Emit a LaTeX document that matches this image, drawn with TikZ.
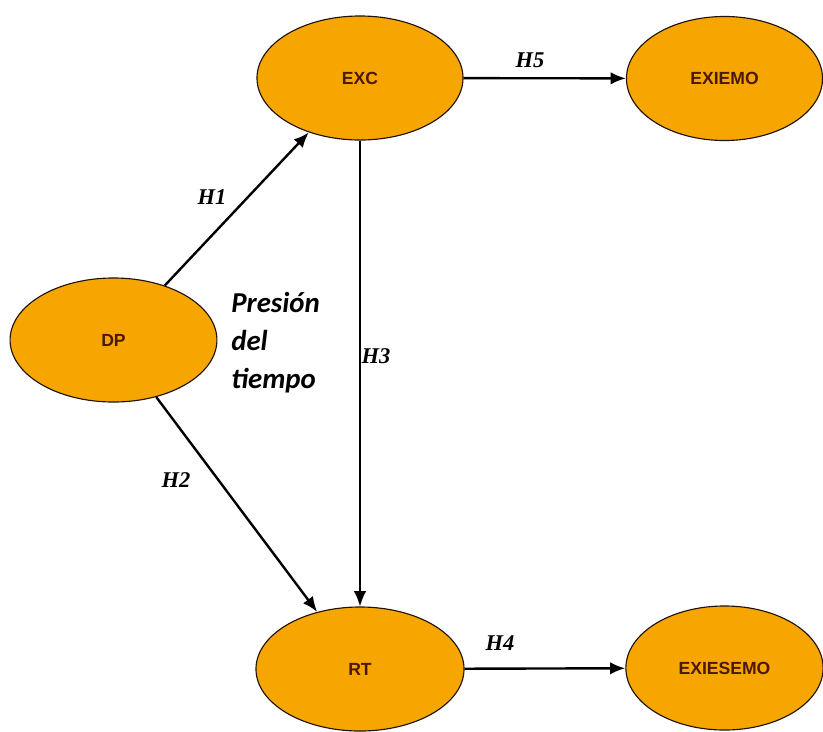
\documentclass[tikz,border=0pt]{standalone}
\usepackage{fontspec}
\setmainfont{Liberation Serif}
\setsansfont{Liberation Sans}
\newfontfamily\notefont{Carlito}
\usetikzlibrary{shapes.geometric}
\usetikzlibrary{arrows.meta}
\definecolor{varfill}{RGB}{247,165,0}
\definecolor{vartext}{RGB}{75,25,10}
\tikzset{
  % style for the latent variables
  latent/.style={ellipse,draw=black!85!brown,line width=0.8pt,fill=varfill,
    inner sep=0pt,minimum width=#1,minimum height=3.1cm,
    font=\sffamily\bfseries\fontsize{12.5}{14}\selectfont,text=vartext},
  latent/.default=5.15cm,
  % style for the hypothesis arrows
  hyp/.style={draw=black,line width=1.7pt,-{Latex[length=3.8mm,width=3.1mm]}},
  hyplabel/.style={font=\rmfamily\bfseries\itshape\fontsize{16}{18}\selectfont},
  note/.style={font=\notefont\bfseries\itshape\fontsize{20.5}{27}\selectfont,align=left,inner sep=0pt},
}

\begin{document}
\begin{tikzpicture}[x=0.025cm,y=-0.025cm]
\useasboundingbox (0,0) rectangle (823,731);
\node[latent] (EXC) at (360,78) {EXC};
\node[latent=4.9cm] (EXIEMO) at (724.5,78.5) {EXIEMO};
\node[latent=5.17cm] (DP) at (113.5,340) {DP};
\node[latent=5.2cm] (RT) at (360,669) {RT};
\node[latent=4.93cm] (EXIESEMO) at (724.5,668) {EXIESEMO};
\node[note,anchor=west] (tiempo) at (231,343) {Presión\\del\\tiempo};
\begin{scope}
  \draw[hyp] (DP) -- (EXC);
  \draw[hyp] (DP) -- (RT);
  \draw[hyp,line width=1.3pt] (EXC) -- (RT);
  \draw[hyp] (RT) -- (EXIESEMO);
  \draw[hyp] (EXC) -- (EXIEMO);
\end{scope}
\node[hyplabel] (h1) at (212,197) {H1};
\node[hyplabel] (h2) at (176,480) {H2};
\node[hyplabel] (h3) at (376,356) {H3};
\node[hyplabel] (h4) at (500,643) {H4};
\node[hyplabel] (h5) at (530,60) {H5};
\end{tikzpicture}
\end{document}
